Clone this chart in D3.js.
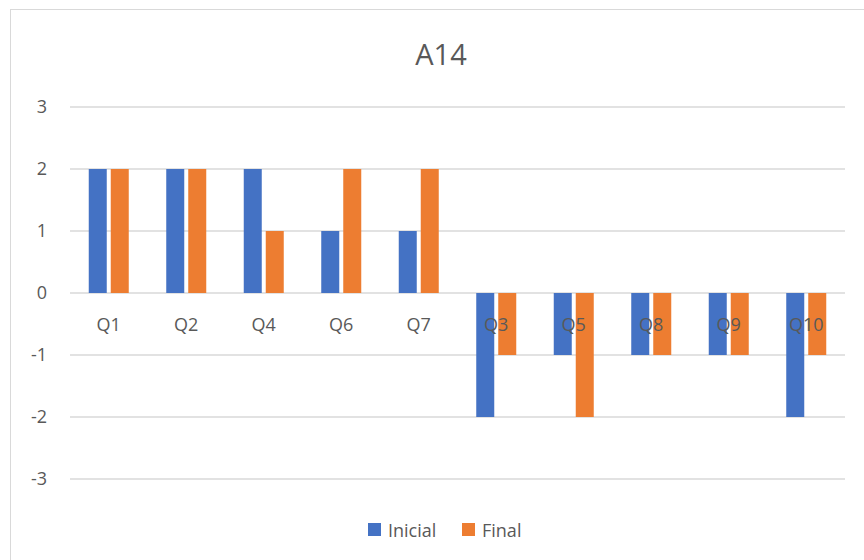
<!DOCTYPE html>
<html><head><meta charset="utf-8">
<script src="https://cdn.jsdelivr.net/npm/d3@7"></script>
<style>body{margin:0;background:#fff}svg{display:block}text{font-family:"Open Sans","Liberation Sans",sans-serif}</style>
</head><body>
<svg id="c" width="864" height="560"></svg>
<script>
const categories = ["Q1","Q2","Q4","Q6","Q7","Q3","Q5","Q8","Q9","Q10"];
const inicial = [2,2,2,1,1,-2,-1,-1,-1,-2];
const final = [2,2,1,2,2,-1,-2,-1,-1,-1];
const seriesNames = ["Inicial","Final"];
const colors = ["#4472c4","#ed7d31"];
const yTicks = [-3,-2,-1,0,1,2,3];
const title = "A14";

const svg = d3.select("#c");
svg.append("rect").attr("x",10.5).attr("y",9.5).attr("width",870).attr("height",570)
  .attr("fill","#fff").attr("stroke","#d9d9d9").attr("stroke-width",1);

const x = d3.scaleBand().domain(categories).range([70,845]);
const y = d3.scaleLinear().domain([-3,3]).range([479,107]);

svg.append("g").selectAll("line").data(yTicks).join("line")
  .attr("x1",70).attr("x2",845).attr("y1",d=>y(d)).attr("y2",d=>y(d))
  .attr("stroke","#d9d9d9").attr("stroke-width",1.5);

const yAxis = d3.axisLeft(y).tickValues(yTicks).tickSize(0).tickPadding(0).tickFormat(d=>String(d));
const ga = svg.append("g").attr("transform","translate(47,0)").call(yAxis);
ga.select(".domain").remove();
ga.selectAll("text").attr("font-size",18).attr("fill","#595959").attr("font-family","'Open Sans',sans-serif");

const barW = 18, gap = 4;
const series = [inicial, final];
series.forEach((vals,si)=>{
  svg.append("g").selectAll("rect").data(vals).join("rect")
    .attr("x",(d,i)=>x(categories[i]) + x.bandwidth()/2 + (si===0 ? -gap/2-barW : gap/2))
    .attr("width",barW)
    .attr("y",d=>Math.min(y(d),y(0)))
    .attr("height",d=>Math.abs(y(d)-y(0)))
    .attr("fill",colors[si]);
});

const xAxis = d3.axisBottom(x).tickSize(0).tickPadding(0);
const gx = svg.append("g").attr("transform",`translate(0,${y(0)+25})`).call(xAxis);
gx.select(".domain").remove();
gx.selectAll("text").attr("font-size",18).attr("fill","#595959").attr("font-family","'Open Sans',sans-serif");

svg.append("text").attr("x",441).attr("y",65).attr("text-anchor","middle")
  .attr("font-size",29).attr("fill","#595959").text(title);

const legX = [368,462];
seriesNames.forEach((n,i)=>{
  svg.append("rect").attr("x",legX[i]).attr("y",523).attr("width",13).attr("height",13).attr("fill",colors[i]);
  svg.append("text").attr("x",legX[i]+20).attr("y",537).attr("font-size",18).attr("fill","#595959").text(n);
});
</script>
</body></html>
